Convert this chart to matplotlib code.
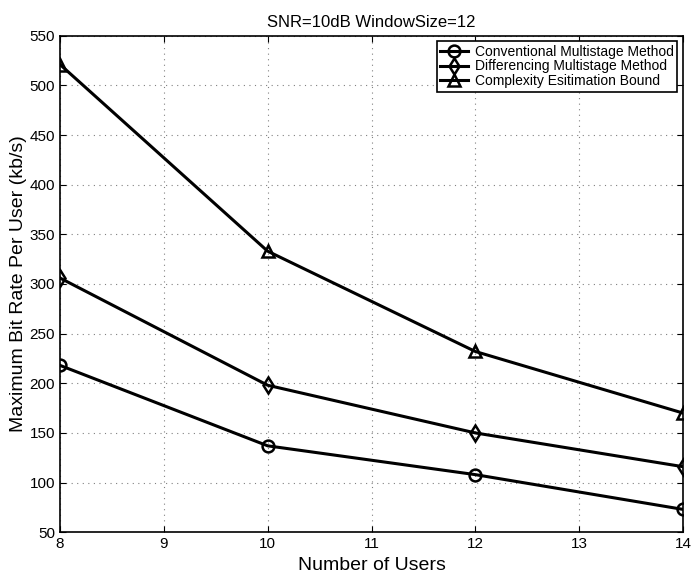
import matplotlib
matplotlib.use('Agg')
import matplotlib.pyplot as plt

# data
users = [8, 10, 12, 14]
conventional = [218, 137, 108, 73]
differencing = [306, 198, 150, 116]
bound = [521, 333, 232, 170]

labels = ['Conventional Multistage Method',
          'Differencing Multistage Method',
          'Complexity Esitimation Bound']
markers = ['o', 'd', '^']

plt.rcParams['font.family'] = ['Liberation Sans', 'DejaVu Sans']

fig = plt.figure(figsize=(6.98, 5.76), dpi=100)
ax = fig.add_axes([0.086, 0.076, 0.8925, 0.862])

for ys, m, lab in zip([conventional, differencing, bound], markers, labels):
    ax.plot(users, ys, color='black', linewidth=2.2, marker=m, markersize=8.5,
            markerfacecolor='none', markeredgewidth=1.8, label=lab)

ax.set_xlim(8, 14)
ax.set_ylim(50, 550)
ax.set_xticks(range(8, 15))
ax.set_yticks(range(50, 551, 50))
ax.tick_params(direction='in', labelsize=11, length=4, top=True, right=True)
ax.grid(True, linestyle=(0, (1, 4)), color='gray', linewidth=0.8)
for s in ax.spines.values():
    s.set_linewidth(1.2)

ax.set_xlabel('Number of Users', fontsize=14, labelpad=4)
ax.set_ylabel('Maximum Bit Rate Per User (kb/s)', fontsize=14, labelpad=2)
ax.set_title('SNR=10dB WindowSize=12', fontsize=12, pad=6)

leg = ax.legend(loc='upper right', fontsize=10, frameon=True, fancybox=False,
                edgecolor='black', framealpha=1, borderpad=0.25,
                labelspacing=0.05, handlelength=2.0, handletextpad=0.5,
                borderaxespad=0.4)
leg.get_frame().set_linewidth(1.2)

fig.savefig('out.png', dpi=100)
